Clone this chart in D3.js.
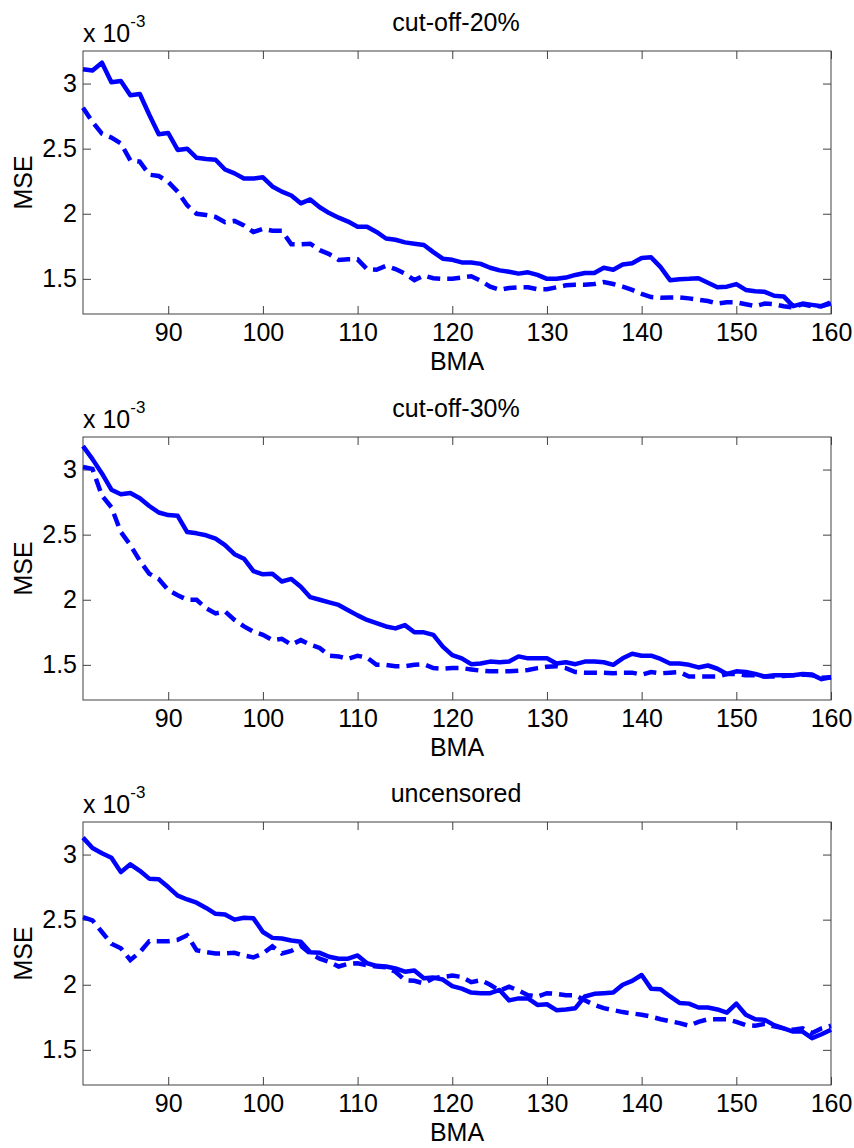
<!DOCTYPE html>
<html>
<head>
<meta charset="utf-8">
<script src="https://cdn.jsdelivr.net/npm/d3@7"></script>
<style>
  body { margin: 0; background: #fff; }
  text { font-family: "Liberation Sans", Arial, sans-serif; fill: #000; }
</style>
</head>
<body>
<div id="chart"></div>
<script>
// BMA values 81..160
const bma = d3.range(81, 161);

const titles = ["cut-off-20%", "cut-off-30%", "uncensored"];

// MSE (x 10^-3), solid line
const solid20 = [3.11,3.10,3.16,3.01,3.02,2.91,2.92,2.76,2.61,2.62,
  2.49,2.50,2.43,2.42,2.415,2.34,2.31,2.27,2.27,2.28,
  2.21,2.17,2.14,2.08,2.11,2.05,2.005,1.97,1.94,1.90,
  1.90,1.86,1.81,1.80,1.78,1.77,1.76,1.705,1.655,1.646,
  1.626,1.626,1.615,1.585,1.565,1.555,1.54,1.55,1.53,1.50,
  1.50,1.51,1.53,1.545,1.545,1.585,1.57,1.61,1.62,1.66,
  1.665,1.59,1.49,1.497,1.50,1.505,1.47,1.436,1.44,1.46,
  1.415,1.405,1.40,1.37,1.365,1.29,1.31,1.30,1.29,1.31];
// dashed line
const dashed20 = [2.815,2.705,2.615,2.585,2.54,2.41,2.40,2.30,2.29,2.245,
  2.17,2.065,2.00,1.99,1.975,1.935,1.945,1.91,1.86,1.885,
  1.87,1.87,1.765,1.765,1.77,1.72,1.69,1.645,1.65,1.65,
  1.575,1.57,1.60,1.575,1.54,1.49,1.525,1.505,1.50,1.50,
  1.51,1.52,1.485,1.44,1.415,1.43,1.435,1.435,1.42,1.42,
  1.435,1.45,1.455,1.455,1.46,1.475,1.46,1.44,1.415,1.385,
  1.36,1.355,1.357,1.357,1.35,1.34,1.33,1.31,1.32,1.32,
  1.305,1.29,1.31,1.305,1.29,1.28,1.305,1.29,1.29,1.32];

const solid30 = [3.18,3.08,2.97,2.845,2.81,2.82,2.78,2.72,2.67,2.65,
  2.645,2.52,2.51,2.495,2.47,2.42,2.35,2.315,2.22,2.195,
  2.20,2.14,2.16,2.10,2.02,2.00,1.98,1.96,1.92,1.88,
  1.845,1.82,1.795,1.78,1.805,1.75,1.75,1.73,1.64,1.575,
  1.55,1.505,1.51,1.525,1.52,1.525,1.565,1.55,1.55,1.55,
  1.51,1.52,1.505,1.525,1.525,1.52,1.50,1.55,1.585,1.57,
  1.57,1.545,1.51,1.51,1.50,1.48,1.495,1.47,1.43,1.45,
  1.445,1.43,1.41,1.42,1.42,1.42,1.43,1.425,1.39,1.405];
const dashed30 = [3.02,3.005,2.80,2.71,2.52,2.42,2.30,2.20,2.16,2.075,
  2.035,2.00,2.00,1.935,1.895,1.91,1.845,1.795,1.755,1.73,
  1.69,1.70,1.655,1.69,1.655,1.63,1.57,1.565,1.545,1.57,
  1.555,1.50,1.50,1.49,1.49,1.50,1.505,1.475,1.47,1.475,
  1.475,1.465,1.455,1.45,1.45,1.45,1.455,1.46,1.475,1.485,
  1.49,1.475,1.445,1.44,1.44,1.44,1.435,1.44,1.44,1.425,
  1.445,1.435,1.44,1.445,1.41,1.41,1.41,1.41,1.43,1.43,
  1.42,1.42,1.41,1.41,1.415,1.42,1.425,1.42,1.40,1.405];

const solidUnc = [3.13,3.05,3.01,2.975,2.865,2.925,2.875,2.815,2.81,2.75,
  2.685,2.655,2.63,2.59,2.545,2.54,2.50,2.515,2.51,2.405,
  2.36,2.355,2.34,2.33,2.25,2.245,2.215,2.20,2.20,2.225,
  2.165,2.145,2.14,2.125,2.10,2.11,2.05,2.055,2.04,1.99,
  1.97,1.94,1.935,1.935,1.96,1.88,1.895,1.895,1.845,1.85,
  1.805,1.81,1.82,1.91,1.93,1.935,1.94,2.00,2.03,2.075,
  1.97,1.965,1.91,1.86,1.855,1.825,1.825,1.81,1.785,1.855,
  1.77,1.735,1.73,1.69,1.665,1.64,1.64,1.59,1.62,1.655];
const dashedUnc = [2.52,2.495,2.405,2.315,2.28,2.19,2.25,2.335,2.335,2.335,
  2.345,2.38,2.265,2.25,2.24,2.24,2.245,2.225,2.21,2.24,
  2.295,2.24,2.26,2.30,2.24,2.20,2.175,2.14,2.16,2.165,
  2.15,2.14,2.135,2.10,2.035,2.03,2.01,2.05,2.06,2.07,
  2.06,2.02,2.035,2.00,1.955,1.985,1.955,1.92,1.91,1.935,
  1.93,1.92,1.92,1.88,1.845,1.82,1.805,1.79,1.78,1.77,
  1.755,1.735,1.72,1.705,1.685,1.715,1.735,1.735,1.735,1.715,
  1.69,1.685,1.70,1.68,1.665,1.655,1.665,1.63,1.665,1.685];

const xTicks = [90, 100, 110, 120, 130, 140, 150, 160];
const yTicks = [1.5, 2, 2.5, 3];

const panels = [
  {title: titles[0], solid: solid20, dashed: dashed20, top: 51},
  {title: titles[1], solid: solid30, dashed: dashed30, top: 437},
  {title: titles[2], solid: solidUnc, dashed: dashedUnc, top: 822}
];

const width = 854, height = 1148;
const left = 83, right = 831, ph = 263;
const fs = 25;

const svg = d3.select("#chart").append("svg")
  .attr("width", width)
  .attr("height", height);

const x = d3.scaleLinear().domain([81, 160]).range([left, right]);

panels.forEach(p => {
  const y = d3.scaleLinear().domain([1.23, 3.25]).range([p.top + ph, p.top]);
  const g = svg.append("g");

  // ticks (inward, all four sides)
  g.append("g").attr("transform", `translate(0,${p.top + ph})`)
    .call(d3.axisBottom(x).tickValues(xTicks).tickSize(-8).tickPadding(9).tickFormat(d3.format("d")));
  g.append("g").attr("transform", `translate(0,${p.top})`)
    .call(d3.axisTop(x).tickValues(xTicks).tickSize(-8).tickFormat(""));
  g.append("g").attr("transform", `translate(${left},0)`)
    .call(d3.axisLeft(y).tickValues(yTicks).tickSize(-8).tickPadding(6).tickFormat(d => String(d)));
  g.append("g").attr("transform", `translate(${right},0)`)
    .call(d3.axisRight(y).tickValues(yTicks).tickSize(-8).tickFormat(""));

  g.selectAll(".domain").remove();
  g.selectAll(".tick line").attr("stroke", "#404040");
  g.selectAll(".tick text").attr("font-size", fs)
    .attr("font-family", "'Liberation Sans', Arial, sans-serif").attr("fill", "#000");

  g.append("rect")
    .attr("x", left).attr("y", p.top)
    .attr("width", right - left).attr("height", ph)
    .attr("fill", "none").attr("stroke", "#404040").attr("stroke-width", 1);

  const line = d3.line().x((d, i) => x(bma[i])).y(d => y(d));

  g.append("path").datum(p.dashed)
    .attr("d", line)
    .attr("fill", "none").attr("stroke", "#0000ff")
    .attr("stroke-width", 4.5).attr("stroke-dasharray", "13,7");

  g.append("path").datum(p.solid)
    .attr("d", line)
    .attr("fill", "none").attr("stroke", "#0000ff")
    .attr("stroke-width", 4.5).attr("stroke-linejoin", "round");

  g.append("text")
    .attr("x", (left + right) / 2 - 1).attr("y", p.top - 20)
    .attr("text-anchor", "middle").attr("font-size", fs)
    .text(p.title);

  g.append("text")
    .attr("x", (left + right) / 2).attr("y", p.top + ph + 56)
    .attr("text-anchor", "middle").attr("font-size", fs)
    .text("BMA");

  g.append("text")
    .attr("transform", `translate(32,${p.top + ph / 2}) rotate(-90)`)
    .attr("text-anchor", "middle").attr("font-size", fs)
    .text("MSE");

  const ex = g.append("text")
    .attr("x", left).attr("y", p.top - 9).attr("font-size", fs);
  ex.append("tspan").text("x 10");
  ex.append("tspan").attr("font-size", 17).attr("dy", -15).text("-3");
});
</script>
</body>
</html>
